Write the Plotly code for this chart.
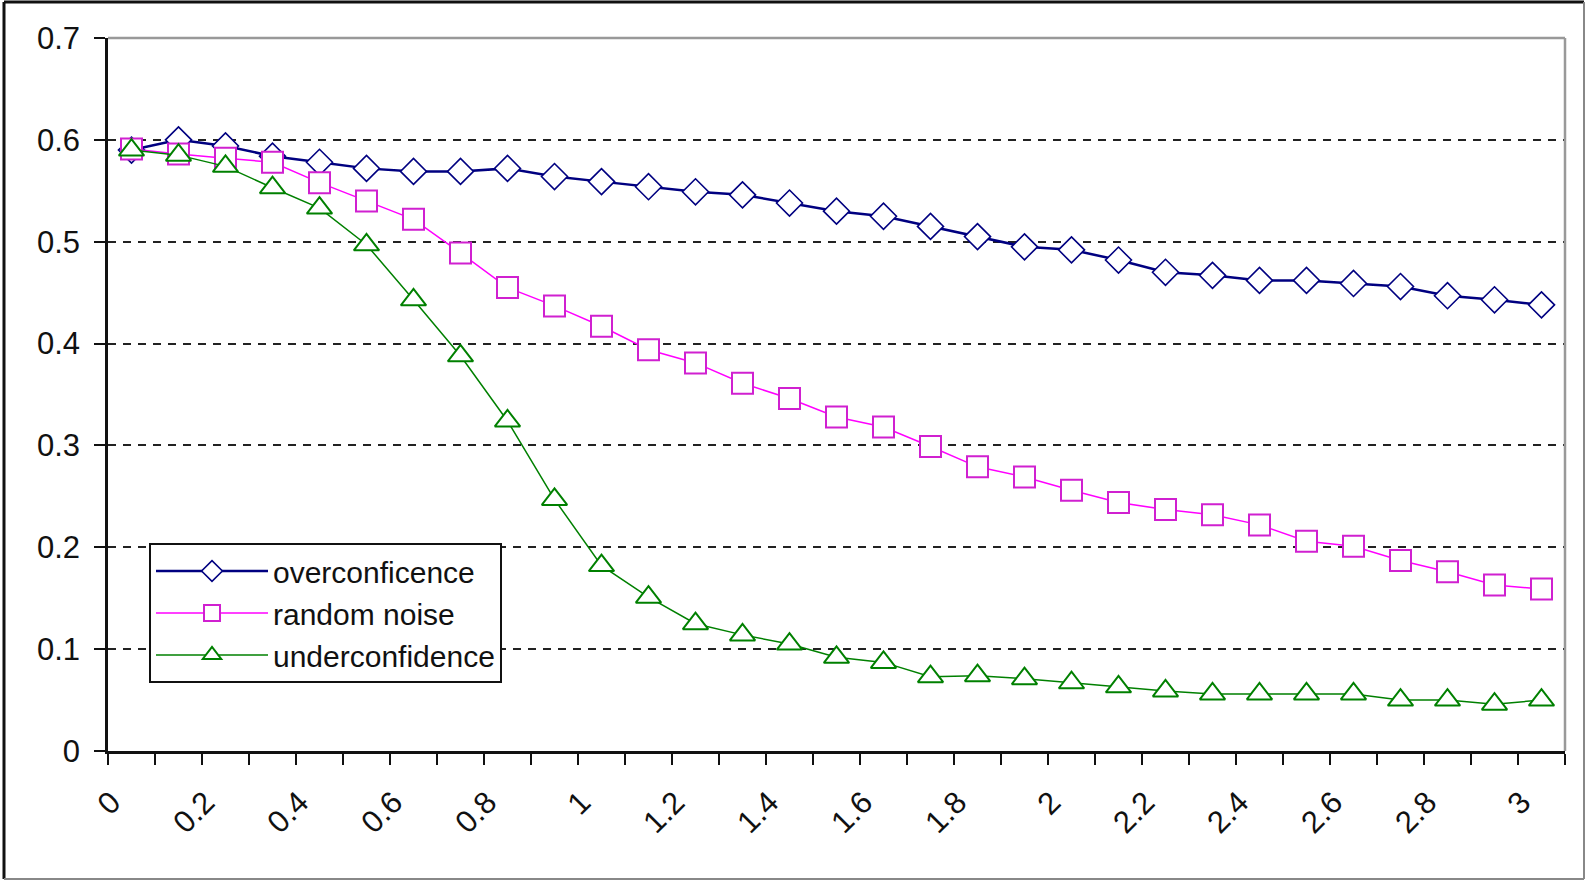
import plotly.graph_objects as go

categories = ["0", "0.1", "0.2", "0.3", "0.4", "0.5", "0.6", "0.7", "0.8", "0.9",
              "1", "1.1", "1.2", "1.3", "1.4", "1.5", "1.6", "1.7", "1.8", "1.9",
              "2", "2.1", "2.2", "2.3", "2.4", "2.5", "2.6", "2.7", "2.8", "2.9", "3"]
tick_labels = [c if i % 2 == 0 else "" for i, c in enumerate(categories)]

overconfidence = [0.590, 0.600, 0.594, 0.584, 0.578, 0.572, 0.569, 0.569, 0.572, 0.564,
                  0.559, 0.554, 0.549, 0.546, 0.538, 0.530, 0.525, 0.515, 0.505, 0.495,
                  0.492, 0.482, 0.470, 0.467, 0.462, 0.462, 0.459, 0.456, 0.447, 0.443, 0.438]
random_noise = [0.591, 0.586, 0.582, 0.578, 0.558, 0.540, 0.522, 0.489, 0.455, 0.437,
                0.417, 0.394, 0.381, 0.361, 0.346, 0.328, 0.318, 0.299, 0.279, 0.269,
                0.256, 0.244, 0.237, 0.232, 0.222, 0.206, 0.201, 0.187, 0.176, 0.163, 0.159]
underconfidence = [0.590, 0.585, 0.574, 0.553, 0.533, 0.497, 0.443, 0.388, 0.324, 0.247,
                   0.182, 0.151, 0.125, 0.114, 0.105, 0.092, 0.087, 0.073, 0.074, 0.071,
                   0.067, 0.063, 0.059, 0.056, 0.056, 0.056, 0.056, 0.050, 0.050, 0.046, 0.050]

series_names = ["overconficence", "random noise", "underconfidence"]
FONT = "Liberation Sans, Arial, sans-serif"

fig = go.Figure()
fig.add_trace(go.Scatter(
    x=categories, y=overconfidence, name=series_names[0], mode="lines+markers",
    line=dict(color="#000080", width=2.5),
    marker=dict(symbol="diamond", size=20, color="white", line=dict(color="#000080", width=1.6))))
fig.add_trace(go.Scatter(
    x=categories, y=random_noise, name=series_names[1], mode="lines+markers",
    line=dict(color="#FF00FF", width=1.5),
    marker=dict(symbol="square", size=21, color="white", line=dict(color="#D020D0", width=2))))
fig.add_trace(go.Scatter(
    x=categories, y=underconfidence, name=series_names[2], mode="lines+markers",
    line=dict(color="#008000", width=1.5),
    marker=dict(symbol="triangle-up", size=22, color="white", line=dict(color="#008000", width=2))))

W, H = 1587, 881
ml, mr, mt, mb = 108, 22, 38, 130
pw, ph = W - ml - mr, H - mt - mb

def px_x(p):
    return (p - ml) / pw

def px_y(p):
    return (H - mb - p) / ph

shapes = [
    # plot area top/right border (grey)
    dict(type="line", xref="paper", yref="paper", x0=0, x1=1, y0=1, y1=1,
         line=dict(color="#999999", width=2.5)),
    dict(type="line", xref="paper", yref="paper", x0=1, x1=1, y0=0, y1=1,
         line=dict(color="#999999", width=2.5)),
    # outer chart border
    dict(type="line", xref="paper", yref="paper", x0=px_x(4), x1=px_x(4), y0=px_y(2), y1=px_y(879),
         line=dict(color="#111111", width=3)),
    dict(type="line", xref="paper", yref="paper", x0=px_x(4), x1=px_x(1584), y0=px_y(2), y1=px_y(2),
         line=dict(color="#111111", width=3)),
    dict(type="line", xref="paper", yref="paper", x0=px_x(1584), x1=px_x(1584), y0=px_y(2), y1=px_y(879),
         line=dict(color="#888888", width=2)),
    dict(type="line", xref="paper", yref="paper", x0=px_x(4), x1=px_x(1584), y0=px_y(879), y1=px_y(879),
         line=dict(color="#888888", width=2)),
]

fig.update_layout(
    width=W, height=H,
    margin=dict(l=ml, r=mr, t=mt, b=mb, autoexpand=False),
    paper_bgcolor="white", plot_bgcolor="white",
    font=dict(family=FONT, size=30, color="#111111"),
    showlegend=True,
    legend=dict(
        x=px_x(149), y=px_y(543), xanchor="left", yanchor="top",
        bgcolor="white", bordercolor="#111111", borderwidth=2,
        font=dict(family=FONT, size=30, color="#111111"),
        itemwidth=112, tracegroupgap=0,
        entrywidth=265, entrywidthmode="pixels",
    ),
    shapes=shapes,
    xaxis=dict(
        type="category", categoryorder="array", categoryarray=categories,
        tickmode="array", tickvals=categories, ticktext=tick_labels,
        tickson="boundaries", ticks="outside", ticklen=11, tickwidth=2, tickcolor="#111111",
        tickangle=-45, showgrid=False, zeroline=False,
        showline=True, linecolor="#111111", linewidth=2.5,
        range=[-0.5, len(categories) - 0.5],
        tickfont=dict(family=FONT, size=31, color="#111111"),
        ticklabelstandoff=18, ticklabelshift=-20,
    ),
    yaxis=dict(
        range=[0, 0.7], tickmode="linear", tick0=0, dtick=0.1,
        ticks="outside", ticklen=11, tickwidth=2, tickcolor="#111111",
        showgrid=True, gridcolor="#222222", gridwidth=2, griddash="8px,7px",
        zeroline=False, showline=True, linecolor="#111111", linewidth=2.5,
        tickfont=dict(family=FONT, size=31, color="#111111"),
        ticklabelstandoff=8,
    ),
)

fig.write_html("out.html", config={"displayModeBar": False},
               post_script="document.body.style.margin='0px';document.body.style.overflow='hidden';")
